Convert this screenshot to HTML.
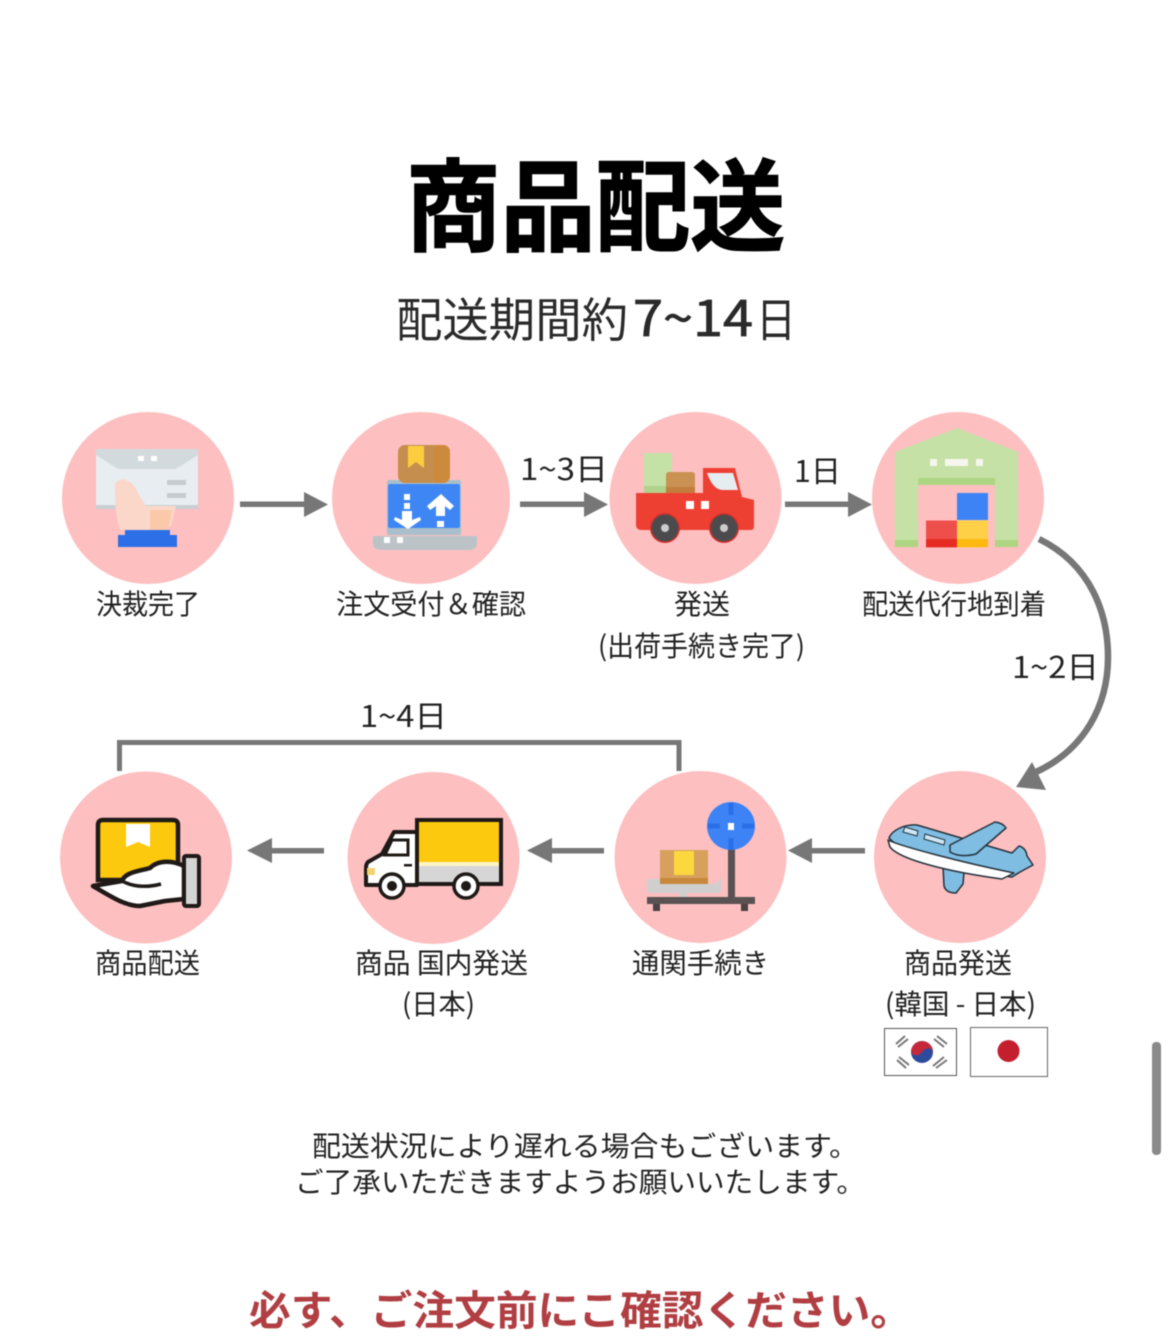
<!DOCTYPE html>
<html lang="ja"><head><meta charset="utf-8"><title>商品配送</title>
<style>
html,body{margin:0;padding:0;background:#fff}
svg{display:block;filter:blur(.5px)}
text{font-family:"Noto Sans CJK JP","Liberation Sans",sans-serif;fill:#222}
.l{font-size:28px;text-anchor:start}
</style></head><body>
<svg width="1170" height="1339" viewBox="0 0 1170 1339" xmlns="http://www.w3.org/2000/svg">
<rect width="1170" height="1339" fill="#fff"/>
<rect x="1152" y="1042" width="9" height="113" rx="4" fill="#8a8a8a"/>

<!-- title -->
<text x="406" y="243" font-size="100" font-weight="700" textLength="379" lengthAdjust="spacingAndGlyphs" style="fill:#000;stroke:#000;stroke-width:1.5">商品配送</text>
<text x="396" y="337" font-size="47" textLength="232" lengthAdjust="spacingAndGlyphs" style="fill:#2a2a2a">配送期間約</text>
<text x="633" y="336" font-size="49" font-weight="400" textLength="120" lengthAdjust="spacingAndGlyphs" style="fill:#2a2a2a;stroke:#2a2a2a;stroke-width:.8">7~14</text>
<text x="756" y="337" font-size="47" textLength="40" lengthAdjust="spacingAndGlyphs" style="fill:#2a2a2a">日</text>

<!-- circles -->
<g fill="#fdbfc0">
<circle cx="148" cy="498" r="86"/>
<ellipse cx="421" cy="498" rx="89" ry="86"/>
<circle cx="695.500" cy="498" r="86"/>
<circle cx="958" cy="498" r="86"/>
<circle cx="146" cy="857.500" r="86"/>
<circle cx="433.500" cy="858" r="86"/>
<circle cx="700.500" cy="857" r="86"/>
<circle cx="960" cy="857" r="86"/>
</g>

<!-- arrows -->
<g fill="#777" stroke="none">
<rect x="240" y="501.500" width="66" height="5.500"/><path d="M304 492L328 504.500L304 517Z"/>
<rect x="520" y="501.500" width="66" height="5.500"/><path d="M584 492L608 504.500L584 517Z"/>
<rect x="785" y="501.500" width="65" height="5.500"/><path d="M848 492L872 504.500L848 517Z"/>
<rect x="270" y="848" width="54" height="5.500"/><path d="M272 838L247 850.500L272 863Z"/>
<rect x="550" y="848" width="54" height="5.500"/><path d="M552 838L527 850.500L552 863Z"/>
<rect x="810" y="848" width="55" height="5.500"/><path d="M812 838L788 850.500L812 863Z"/>
<path d="M1016 787L1032 762L1046 790Z"/>
</g>
<path d="M1039 539C1092 565 1108 615 1108 657C1108 705 1085 750 1034 773" fill="none" stroke="#777" stroke-width="6.500"/>
<path d="M119.500 771V742.500H679V771" fill="none" stroke="#777" stroke-width="5"/>

<!-- icon 1: card payment -->
<path d="M96 449H198V508H96Z" fill="#e7edf0"/>
<path d="M96 449H198V455L176 469H118L96 455Z" fill="#d3dadd"/>
<rect x="96" y="505" width="102" height="4" fill="#c8d0d3"/>
<rect x="138" y="456" width="6" height="5" fill="#fff"/><rect x="151" y="456" width="6" height="5" fill="#fff"/>
<rect x="167" y="480" width="19" height="5" fill="#c5ccd0"/><rect x="167" y="493" width="19" height="5" fill="#c5ccd0"/>
<path d="M115 484C122 474 134 482 138 493L146 506L176 506L171 526L150 530H120C115 515 115 500 115 484Z" fill="#fbd7c9"/>
<path d="M150 510H172L168 530H150Z" fill="#fbc9a9"/>
<path d="M125 530H170V535H177V547H118V535H125Z" fill="#2c6fe6"/>

<!-- icon 2: laptop and box -->
<rect x="387" y="480" width="74" height="55" rx="2" fill="#a9c0cc"/>
<rect x="388" y="484" width="72" height="44" rx="2" fill="#3f86f5"/>
<rect x="398" y="445" width="52" height="38" rx="7" fill="#c58e4f"/>
<path d="M434 445H443A7 7 0 0 1 450 452V476A7 7 0 0 1 443 483H434Z" fill="#ce8a3c"/>
<path d="M408 446H424V468L416 462L408 468Z" fill="#fcce3e"/>
<g fill="#fff"><rect x="404" y="494" width="6" height="6"/><rect x="404" y="503" width="6" height="6"/><rect x="437" y="521" width="7" height="6"/>
<path d="M395 517L402 520V511H412V520L420 517L421 520L408 529L394 520Z"/>
<path d="M441 494L454 506L450 510L445 506V516H436V506L430 510L427 506Z"/></g>
<path d="M373 536H477V543Q477 550 468 550H382Q373 550 373 543Z" fill="#bcc3c7"/>
<rect x="384" y="537" width="6" height="6" fill="#fff"/><rect x="397" y="537" width="6" height="6" fill="#fff"/>

<!-- icon 3: truck -->
<rect x="644" y="453" width="28" height="42" fill="#c4e1a6"/>
<path d="M644 486H672V494H644Z" fill="#b0d28d"/>
<path d="M666 475Q666 472 669 472H692Q695 472 695 475V494H666Z" fill="#c99253"/>
<rect x="666" y="487" width="29" height="7" fill="#c27e3c"/>
<path d="M703 468H735L742 497L754 500V527Q754 530 750 530H642Q636 530 636 525V493H703Z" fill="#ee3f33"/>
<path d="M707 473H733L738 490H723C716 490 711 484 707 473Z" fill="#e6edf0"/>
<rect x="686" y="501" width="8" height="8" fill="#fff"/><rect x="701" y="501" width="8" height="8" fill="#fff"/>
<circle cx="665" cy="528" r="15" fill="#d4302a"/><circle cx="724" cy="528" r="15" fill="#d4302a"/>
<circle cx="665" cy="528" r="13.500" fill="#4b4b4d"/><circle cx="724" cy="528" r="13.500" fill="#4b4b4d"/>
<circle cx="665" cy="528" r="4" fill="#ccc"/><circle cx="724" cy="528" r="4" fill="#ccc"/>

<!-- icon 4: warehouse -->
<path d="M895 452L957 428L1018 452V547H995V484H918V547H895Z" fill="#c5e1a5"/>
<rect x="918" y="478" width="77" height="7" fill="#aed581"/>
<rect x="895" y="540" width="23" height="7" fill="#aed581"/><rect x="995" y="540" width="23" height="7" fill="#aed581"/>
<rect x="930" y="459" width="7" height="7" fill="#f6f6ee"/><rect x="945" y="459" width="23" height="7" fill="#f6f6ee"/><rect x="976" y="459" width="7" height="7" fill="#f6f6ee"/>
<rect x="957" y="493" width="31" height="27" fill="#3e83f5"/>
<rect x="926" y="520.500" width="31" height="27" fill="#ee4f4b"/><rect x="926" y="539" width="31" height="8" fill="#e62b23"/>
<rect x="957" y="520.500" width="31" height="27" fill="#fdd047"/><rect x="957" y="539" width="31" height="8" fill="#fdb90f"/>

<!-- icon 5: hand with box -->
<path d="M98 825Q98 820 103 820H173Q178 820 178 825V880H98Z" fill="#fdc90e" stroke="#1f1a17" stroke-width="4.500"/>
<path d="M126 824H150V847L138 842L126 847Z" fill="#fff"/>
<path d="M93 886L122 881C125 872 140 871 150 868C158 860 172 860 184 866V899L165 901L140 906C125 906 110 896 93 886Z" fill="#fff" stroke="#1f1a17" stroke-width="4.500" stroke-linejoin="round"/>
<path d="M122 881C135 888 150 887 161 884" fill="none" stroke="#1f1a17" stroke-width="3.500"/>
<rect x="184" y="856" width="15" height="50" rx="2" fill="#d4d4d4" stroke="#1f1a17" stroke-width="4"/>

<!-- icon 6: delivery truck -->
<rect x="417" y="820" width="84" height="64" fill="#fdc90e" stroke="#1f1a17" stroke-width="4"/>
<rect x="419" y="862" width="80" height="20" fill="#d6d6d6"/><rect x="419" y="862" width="80" height="4" fill="#fff5c4"/>
<path d="M417 832H394L382 854L368 862Q366 864 366 868V885H417Z" fill="#fff" stroke="#1f1a17" stroke-width="4" stroke-linejoin="round"/>
<path d="M392 840H408V855H385Z" fill="#fff" stroke="#1f1a17" stroke-width="3"/>
<rect x="404" y="864" width="8" height="2.500" fill="#1f1a17"/>
<rect x="367" y="868" width="8" height="7" fill="#f3d36d"/>
<circle cx="392" cy="886" r="12" fill="#fff" stroke="#1f1a17" stroke-width="3.500"/><circle cx="392" cy="886" r="5" fill="#1f1a17"/>
<circle cx="466" cy="886" r="12" fill="#fff" stroke="#1f1a17" stroke-width="3.500"/><circle cx="466" cy="886" r="5" fill="#1f1a17"/>

<!-- icon 7: scale -->
<path d="M647 879H665L668 884H716L720 879H721V890Q721 893 717 893H652Q647 893 647 889Z" fill="#cfcfcf"/>
<rect x="660" y="850" width="48" height="34" fill="#d7a05d"/>
<rect x="660" y="878" width="48" height="6" fill="#c8883c"/>
<rect x="674" y="851" width="20" height="24" fill="#fcd73e"/>
<rect x="680" y="893" width="7" height="8" fill="#cfcfcf"/>
<rect x="728" y="845" width="7" height="58" fill="#5a5252"/>
<rect x="647" y="897" width="108" height="7" fill="#5a5252"/>
<rect x="653" y="904" width="7" height="7" fill="#4a4242"/><rect x="741" y="904" width="7" height="7" fill="#4a4242"/>
<circle cx="731" cy="826" r="24" fill="#3e83f5"/>
<path d="M731 803V815M731 838V850M708 826H720M742 826H754" stroke="#2a6fe8" stroke-width="5"/>
<rect x="728" y="823" width="6" height="7" fill="#fff"/>

<!-- icon 8: airplane -->
<path d="M943 866L964 872L963 884L956 893Q946 893 944 886Z" fill="#7fbde2" stroke="#24323c" stroke-width="1.500" stroke-linejoin="round"/>
<path d="M889 838C892 830 905 824 917 825L1012 853L1019 846Q1026 848 1027 856L1033 865L1020 872L1012 877Q1008 877 1001 874L1005 877C960 870 905 856 889 838Z" fill="#7fbde2" stroke="#24323c" stroke-width="1.500" stroke-linejoin="round"/>
<path d="M888 840C900 846 960 862 1014 873L1002 879C950 872 900 860 890 847Z" fill="#fff" stroke="#24323c" stroke-width="1.500" stroke-linejoin="round"/>
<path d="M950 845L995 822Q1003 823 1006 828L976 854Q960 858 950 852Z" fill="#7fbde2" stroke="#24323c" stroke-width="1.500" stroke-linejoin="round"/>
<path d="M905 827L918 831L917 836L903 832ZM925 834L945 840L944 845L924 839Z" fill="#cfe7f5" stroke="#24323c" stroke-width="1"/>

<!-- flags -->
<rect x="884.500" y="1028.500" width="72" height="47" fill="#fff" stroke="#555" stroke-width="1"/>
<circle cx="922" cy="1052" r="11" fill="#2d4a9c"/>
<path d="M911 1052A11 11 0 0 1 933 1052C931 1047 926 1047 922 1052C918 1057 913 1056 911 1052Z" fill="#c6283b"/>
<g stroke="#777" stroke-width="2">
<path d="M896 1044L905 1036M898 1047L908 1039"/>
<path d="M937 1036L947 1044M934 1039L944 1047"/>
<path d="M897 1060L906 1068M899 1057L909 1065"/>
<path d="M936 1068L947 1060M933 1066L944 1057"/>
</g>
<rect x="970.500" y="1027.500" width="77" height="49" fill="#fff" stroke="#666" stroke-width="1"/>
<circle cx="1008.500" cy="1051" r="11" fill="#c41f2d"/>

<!-- labels -->
<text class="l" x="96" y="614" textLength="104" lengthAdjust="spacingAndGlyphs">決裁完了</text>
<text class="l" x="336" y="614" textLength="190" lengthAdjust="spacingAndGlyphs">注文受付＆確認</text>
<text class="l" x="674" y="614" textLength="56" lengthAdjust="spacingAndGlyphs">発送</text>
<text class="l" x="598" y="656" textLength="207" lengthAdjust="spacingAndGlyphs">(出荷手続き完了)</text>
<text class="l" x="862" y="614" textLength="184" lengthAdjust="spacingAndGlyphs">配送代行地到着</text>
<text class="l" x="95" y="973" textLength="105" lengthAdjust="spacingAndGlyphs">商品配送</text>
<text class="l" x="355" y="973" textLength="173" lengthAdjust="spacingAndGlyphs">商品 国内発送</text>
<text class="l" x="402" y="1014" textLength="73" lengthAdjust="spacingAndGlyphs">(日本)</text>
<text class="l" x="632" y="973" textLength="137" lengthAdjust="spacingAndGlyphs">通関手続き</text>
<text class="l" x="904" y="973" textLength="108" lengthAdjust="spacingAndGlyphs">商品発送</text>
<text class="l" x="885" y="1014" textLength="151" lengthAdjust="spacingAndGlyphs">(韓国 - 日本)</text>

<text class="l" x="520" y="480" textLength="88" lengthAdjust="spacingAndGlyphs" style="font-size:30px">1~3日</text>
<text class="l" x="794" y="482" textLength="47" lengthAdjust="spacingAndGlyphs" style="font-size:30px">1日</text>
<text class="l" x="1012" y="678" textLength="87" lengthAdjust="spacingAndGlyphs" style="font-size:30px">1~2日</text>
<text class="l" x="360" y="727" textLength="87" lengthAdjust="spacingAndGlyphs" style="font-size:30px">1~4日</text>

<!-- notes -->
<text x="312" y="1156" font-size="28" textLength="546" lengthAdjust="spacingAndGlyphs">配送状況により遅れる場合もございます。</text>
<text x="295" y="1192" font-size="28" textLength="570" lengthAdjust="spacingAndGlyphs">ご了承いただきますようお願いいたします。</text>
<text x="249" y="1325" font-size="41" font-weight="700" textLength="663" lengthAdjust="spacingAndGlyphs" style="fill:#b03e42">必す、ご注文前にこ確認ください。</text>
</svg>
</body></html>
